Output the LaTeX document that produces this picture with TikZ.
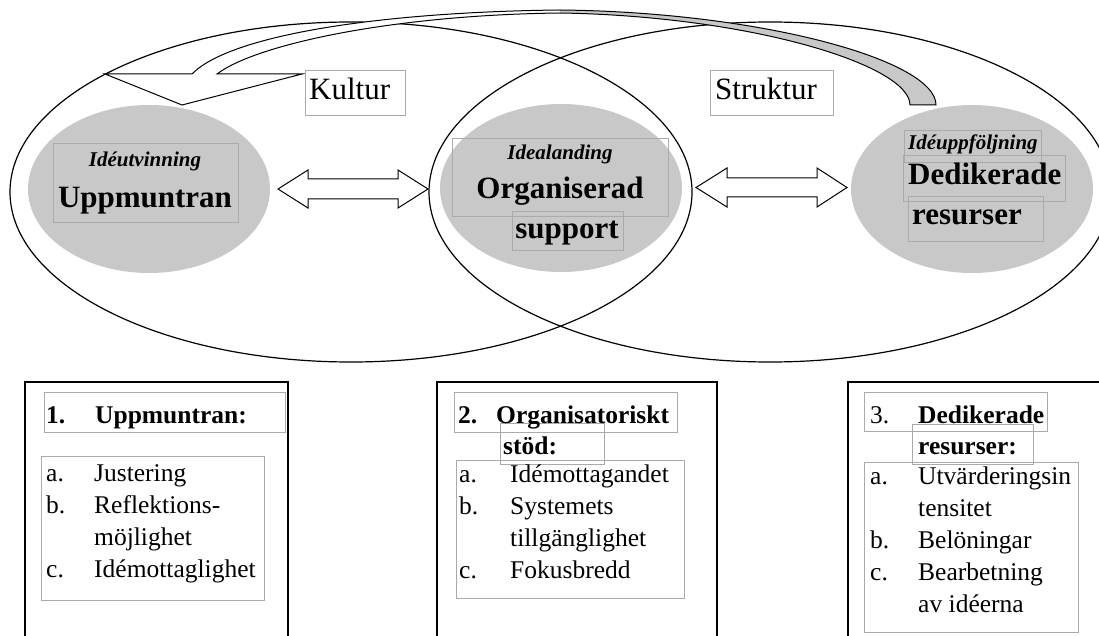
\documentclass[tikz,border=0pt]{standalone}
\usepackage{fontspec}
\setmainfont{Liberation Serif}
\usetikzlibrary{shapes.geometric}
\definecolor{blobgray}{RGB}{200,200,200}
\definecolor{framegray}{RGB}{170,170,170}

\begin{document}
\begin{tikzpicture}[x=1pt,y=-1pt,
  blob/.style={ellipse, fill=blobgray, minimum width=242pt, minimum height=168pt, inner sep=0pt},
  txtframe/.style={draw=framegray, line width=0.8pt},
  lbl/.style={inner sep=0pt, anchor=base west},
  lblc/.style={inner sep=0pt, anchor=base},
  bigtxt/.style={font=\fontsize{31}{36}\selectfont\bfseries},
  smalltxt/.style={font=\fontsize{21}{25}\selectfont\bfseries\itshape},
  plaintxt/.style={font=\fontsize{31}{36}\selectfont},
  itemtxt/.style={font=\fontsize{25.5}{30}\selectfont},
  headtxt/.style={font=\fontsize{25.5}{30}\selectfont\bfseries},
  blockarrow/.style={draw, fill=white, line width=1pt, line join=miter},
  bigbox/.style={draw, line width=1.6pt}
]
\useasboundingbox (0,0) rectangle (1099,636);

% Kultur and Struktur
\draw[line width=1.2pt] (351,192) ellipse [x radius=341, y radius=170];
\draw[line width=1.2pt] (770,192) ellipse [x radius=341, y radius=170];

\node[blob] (ideut) at (149,189) {};
\node[blob] (ideal) at (561,188) {};
\node[blob] (idefol) at (972,189) {};

% curved arrow over the top
\fill[white] (192,74) .. controls (230,35) and (380,12) .. (560,10) -- (560,13) .. controls (390,15) and (255,45) .. (217,74) -- (302,74) -- (182,105) -- (105,74) -- cycle;
\fill[blobgray] (560,10) .. controls (760,12) and (936,60) .. (936,105) -- (910,105) .. controls (910,65) and (750,16) .. (560,13) -- cycle;
\draw[line width=1pt, line join=miter] (192,74) .. controls (230,35) and (380,12) .. (560,10) .. controls (760,12) and (936,60) .. (936,105) -- (910,105) .. controls (910,65) and (750,16) .. (560,13) .. controls (390,15) and (255,45) .. (217,74) -- (302,74) -- (182,105) -- (105,74) -- cycle;

% double arrows
\draw[blockarrow] (278,189) -- (308,170) -- (308,179) -- (398,179) -- (398,170) -- (428,189) -- (398,208) -- (398,199) -- (308,199) -- (308,208) -- cycle;
\draw[blockarrow] (696,187.5) -- (727,168) -- (727,178) -- (817,178) -- (817,168) -- (847,187.5) -- (817,207) -- (817,197) -- (727,197) -- (727,207) -- cycle;

\draw[txtframe] (305,70) rectangle (405,115);
\node[lbl, plaintxt] (kultur) at (309,100) {Kultur};
\draw[txtframe] (710,70) rectangle (833,115);
\node[lbl, plaintxt] (struktur) at (715,100) {Struktur};

% texts in the grey ellipses
\draw[txtframe] (53,143) rectangle (238,222);
\node[lblc, smalltxt] (utvin) at (145,167) {Idéutvinning};
\node[lblc, bigtxt] (uppm) at (145,208) {Uppmuntran};

\draw[txtframe] (452,138) rectangle (668,216);
\draw[txtframe] (512,211) rectangle (623,250);
\node[lblc, smalltxt] (landing) at (560,160) {Idealanding};
\node[lblc, bigtxt] (organ) at (560,199) {Organiserad};
\node[lblc, bigtxt] (supp) at (567,239) {support};

\draw[txtframe] (904,130) rectangle (1041,162);
\draw[txtframe] (903,155) rectangle (1065,201);
\draw[txtframe] (908,196) rectangle (1043,241);
\node[lbl, smalltxt] (foljn) at (908,150) {Idéuppföljning};
\node[lbl, bigtxt] (dedik) at (908,185) {Dedikerade};
\node[lbl, bigtxt] (resur) at (912,225) {resurser};

% box 1
\draw[bigbox] (25,382) rectangle (288,660);
\draw[txtframe] (44,392) rectangle (285,432);
\draw[txtframe] (41,456) rectangle (264,600);
\node[lbl, headtxt] (nr1) at (46,423) {1.};
\node[lbl, headtxt] (hd1) at (95,423) {Uppmuntran:};
\foreach \yy/\lab/\txt [count=\k] in {481/a./Justering, 513/b./Reflektions-, 545//möjlighet, 577/c./Idémottaglighet}{
  \node[lbl, itemtxt] (la\k) at (46,\yy) {\lab};
  \node[lbl, itemtxt] (ta\k) at (94,\yy) {\txt};
}

% box 2
\draw[bigbox] (437,382) rectangle (717,660);
\draw[txtframe] (454,392) rectangle (677,432);
\draw[txtframe] (500,423) rectangle (604,464);
\draw[txtframe] (456,460) rectangle (684,598);
\node[lbl, headtxt] (nr2) at (458,423) {2.};
\node[lbl, headtxt] (hd2) at (496,423) {Organisatoriskt};
\node[lbl, headtxt] (hd2b) at (503,454) {stöd:};
\foreach \yy/\lab/\txt [count=\k] in {482/a./Idémottagandet, 514/b./Systemets, 546//tillgänglighet, 578/c./Fokusbredd}{
  \node[lbl, itemtxt] (lb\k) at (459,\yy) {\lab};
  \node[lbl, itemtxt] (tb\k) at (510,\yy) {\txt};
}

% box 3
\draw[bigbox] (848,382) rectangle (1115,660);
\draw[txtframe] (864,392) rectangle (1047,431);
\draw[txtframe] (912,424) rectangle (1033,464);
\draw[txtframe] (864,462) rectangle (1078,632);
\node[lbl, itemtxt] (nr3) at (870,423) {3.};
\node[lbl, headtxt] (hd3) at (918,423) {Dedikerade};
\node[lbl, headtxt] (hd3b) at (918,454) {resurser:};
\foreach \yy/\lab/\txt [count=\k] in {484/a./Utvärderingsin, 516//tensitet, 548/b./Belöningar, 580/c./Bearbetning, 612//av idéerna}{
  \node[lbl, itemtxt] (lc\k) at (870,\yy) {\lab};
  \node[lbl, itemtxt] (tc\k) at (918,\yy) {\txt};
}

\end{tikzpicture}
\end{document}
